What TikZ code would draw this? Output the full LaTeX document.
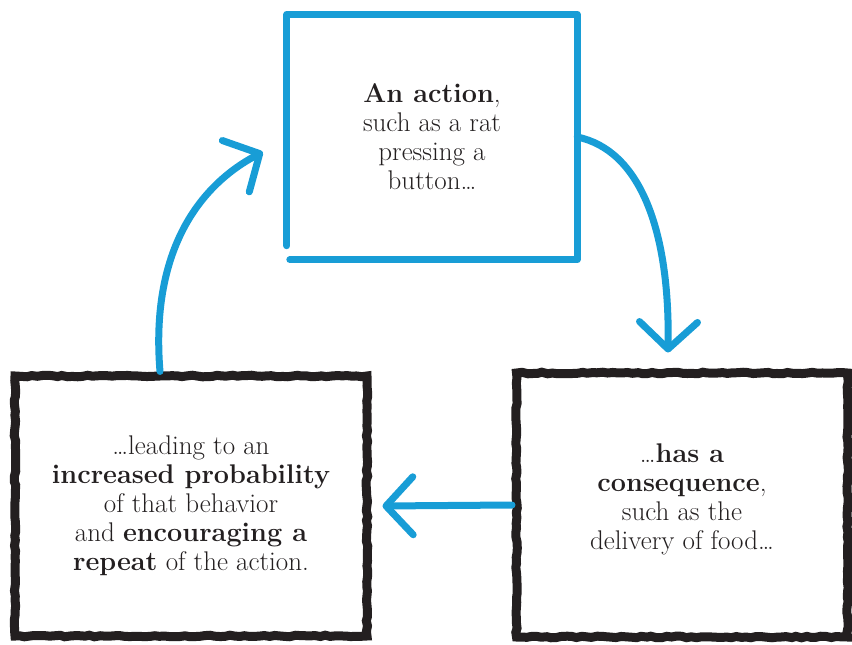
\documentclass[tikz,border=0pt]{standalone}
\usepackage{amsmath}
\usepackage{xcolor}
\usepackage{tikz}
\usetikzlibrary{arrows.meta, decorations.pathmorphing}

\definecolor{penblue}{RGB}{24,157,214}
\definecolor{inkblack}{RGB}{35,31,32}

\begin{document}
\begin{tikzpicture}[
        x=1pt, y=-1pt,
        every node/.style = {align=center, text=inkblack,
                             font=\fontsize{27}{29}\selectfont},
        actbox/.style = {rectangle, minimum width=290pt, minimum height=245pt,
                         inner sep=0pt},
        inkbox/.style = {rectangle, draw=inkblack, line width=9pt, inner sep=0pt,
                         decorate, decoration={random steps, segment length=5pt,
                         amplitude=0.8pt}},
        blueline/.style = {draw=penblue, line width=7pt, line cap=round,
                           line join=round},
        cyclearrow/.style = {blueline,
                             -{Straight Barb[length=27pt, width=58pt, round]}}
    ]

    \useasboundingbox (0,0) rectangle (852,645);

    % --- The three stages ---
    \node[actbox] (act) at (432,137)
        {\textbf{An action},\\such as a rat\\pressing a\\button\ldots};
    \node[inkbox, minimum width=331pt, minimum height=264pt] (cons) at (682,505)
        {\ldots\textbf{has a}\\\textbf{consequence},\\such as the\\delivery of food\ldots\\[-13pt]};
    \node[inkbox, minimum width=352pt, minimum height=260pt] (rep) at (191,506)
        {\ldots leading to an\\\textbf{increased probability}\\of that behavior\\
         and \textbf{encouraging a}\\\textbf{repeat} of the action.};

    % hand-drawn outline of the top box, open at the lower left corner
    \draw[blueline] ([yshift=14pt]act.south west) -- (act.north west)
        -- (act.north east) -- (act.south east) -- ([xshift=3pt]act.south west);

    % --- Cycle arrows ---
    \draw[cyclearrow] (act.east) .. controls (640,150) and (670,230)
        .. ([xshift=-14pt, yshift=16pt]cons.north);
    \draw[cyclearrow] (cons.west) -- ([xshift=11pt]rep.east);
    \draw[cyclearrow] ([xshift=-31pt]rep.north) .. controls (150,250) and (200,185)
        .. ([xshift=-24pt, yshift=-15pt]act.west);

\end{tikzpicture}
\end{document}
